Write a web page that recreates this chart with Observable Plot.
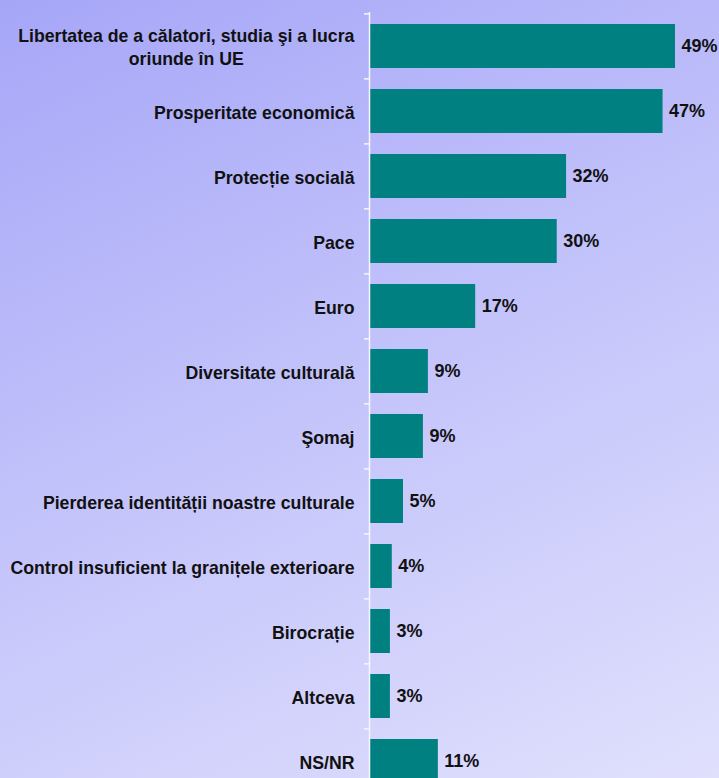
<!DOCTYPE html>
<html>
<head>
<meta charset="utf-8">
<script src="https://cdn.jsdelivr.net/npm/d3@7"></script>
<script src="https://cdn.jsdelivr.net/npm/@observablehq/plot@0.6"></script>
<style>
  html, body { margin: 0; padding: 0; overflow: hidden; }
  #wrap {
    width: 719px; height: 778px; overflow: hidden;
    background: linear-gradient(155deg, #a6a6f8 0%, #c4c4fb 50%, #e0e0fd 100%);
  }
  #wrap svg { display: block; }
</style>
</head>
<body>
<div id="wrap"></div>
<script>
const categories = [
  "Libertatea de a călatori, studia şi a lucra\noriunde în UE",
  "Prosperitate economică",
  "Protecție socială",
  "Pace",
  "Euro",
  "Diversitate culturală",
  "Şomaj",
  "Pierderea identității noastre culturale",
  "Control insuficient la granițele exterioare",
  "Birocrație",
  "Altceva",
  "NS/NR"
];
const values = [49, 47, 31.5, 30, 16.9, 9.3, 8.5, 5.3, 3.5, 3.2, 3.2, 10.9];
const valueLabels = ["49%", "47%", "32%", "30%", "17%", "9%", "9%", "5%", "4%", "3%", "3%", "11%"];

const data = categories.map((c, i) => ({category: c, value: values[i], label: valueLabels[i]}));

const W = 719, H = 795, MT = 12;
const step = (H - MT) / categories.length;
const font = "'Liberation Sans', Arial, sans-serif";
const axisColor = "#f6f6ff";

const chart = Plot.plot({
  width: W,
  height: H,
  marginLeft: 370,
  marginRight: 0,
  marginTop: MT,
  marginBottom: 0,
  style: {background: "transparent", fontFamily: font, overflow: "visible"},
  x: {domain: [0, 56.07], axis: null},
  y: {domain: categories, paddingInner: 0.33, paddingOuter: 0.165, axis: null, label: null},
  marks: [
    Plot.barX(data, {y: "category", x: "value", fill: "#008080"}),
    Plot.ruleX([0], {stroke: axisColor, strokeWidth: 1.5, dx: -1}),
    Plot.axisY({anchor: "left", tickSize: 5, text: null, label: null, dy: -step / 2, dx: -1, stroke: axisColor, strokeWidth: 1.5}),
    Plot.text(data, {
      x: 0, y: "category", text: "category", textAnchor: "end", dx: -16,
      fontWeight: "bold", fontSize: 17.7, fill: "#111", lineHeight: 1.3, fontFamily: font
    }),
    Plot.text(data, {
      x: "value", y: "category", text: "label", textAnchor: "start", dx: 6,
      fontWeight: "bold", fontSize: 18, fill: "#111", fontFamily: font
    })
  ]
});

document.getElementById("wrap").appendChild(chart);

// Multi-line category labels are centred line by line inside a right-aligned block.
chart.querySelectorAll("text").forEach(el => {
  const spans = el.querySelectorAll("tspan");
  if (spans.length > 1 && el.getAttribute("text-anchor") !== "start") {
    const w = el.getBBox().width;
    el.setAttribute("text-anchor", "middle");
    const t = el.getAttribute("transform") || "";
    el.setAttribute("transform", t + ` translate(${-w / 2},0)`);
  }
});
</script>
</body>
</html>
